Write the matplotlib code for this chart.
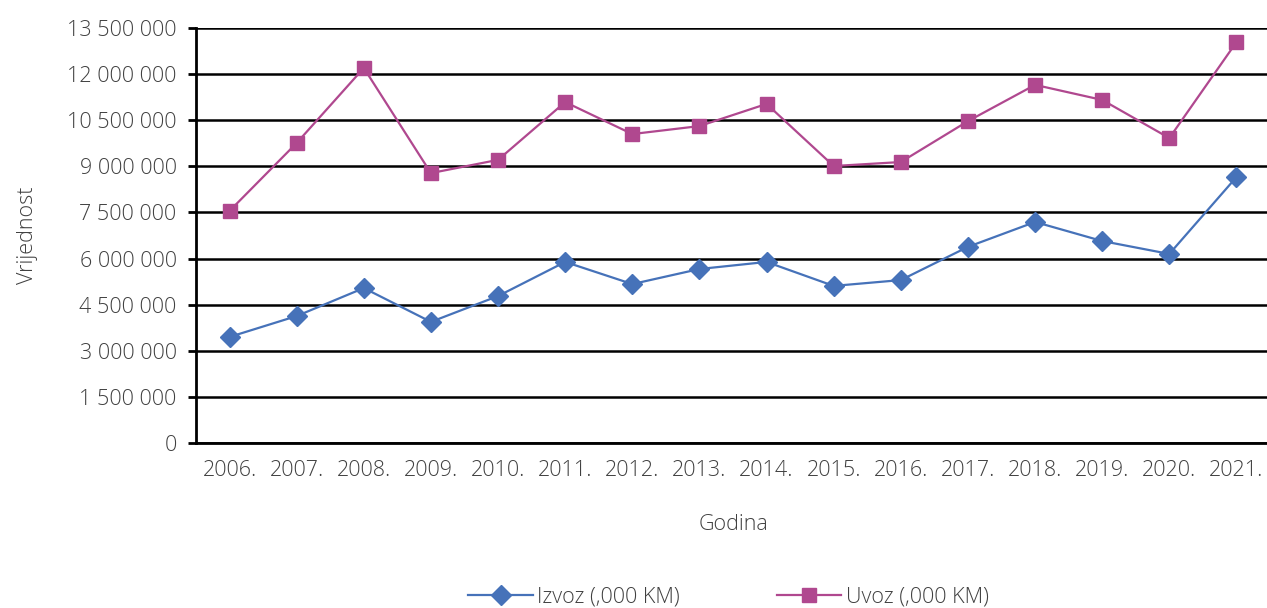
import matplotlib
matplotlib.use('Agg')
from matplotlib import pyplot as plt
from matplotlib.ticker import FuncFormatter, MultipleLocator

godine = ['2006.', '2007.', '2008.', '2009.', '2010.', '2011.', '2012.', '2013.',
          '2014.', '2015.', '2016.', '2017.', '2018.', '2019.', '2020.', '2021.']
izvoz = [3450000, 4130000, 5040000, 3940000, 4780000, 5890000, 5170000, 5660000,
         5890000, 5110000, 5300000, 6380000, 7190000, 6570000, 6150000, 8650000]
uvoz = [7550000, 9760000, 12200000, 8780000, 9210000, 11090000, 10050000, 10310000,
        11030000, 9010000, 9140000, 10470000, 11650000, 11160000, 9920000, 13040000]

plt.rcParams['font.family'] = ['Open Sans', 'DejaVu Sans']
plt.rcParams['font.weight'] = 'light'
plt.rcParams['axes.labelweight'] = 'light'
txt = '#404040'
fs = 15.5

fig = plt.figure(figsize=(12.67, 6.08), dpi=100)
ax = fig.add_axes([196 / 1267, 165 / 608, (1270 - 196) / 1267, 415 / 608])

x = list(range(len(godine)))
ax.plot(x, izvoz, color='#4672B9', lw=1.6, marker='D', ms=10,
        label='Izvoz (,000 KM)', zorder=3)
ax.plot(x, uvoz, color='#B0488F', lw=1.6, marker='s', ms=10,
        label='Uvoz (,000 KM)', zorder=3)

ax.set_xlim(-0.5, len(godine) - 0.5)
ax.set_ylim(0, 13500000)
ax.yaxis.set_major_locator(MultipleLocator(1500000))
ax.yaxis.set_major_formatter(FuncFormatter(lambda v, p: f'{int(v):,}'.replace(',', ' ')))
ax.set_xticks(x)
ax.set_xticklabels(godine)
ax.grid(axis='y', color='black', lw=1.8)
ax.set_axisbelow(True)

for s in ['top', 'right']:
    ax.spines[s].set_visible(False)
for s in ['left', 'bottom']:
    ax.spines[s].set_linewidth(2)

ax.tick_params(axis='y', length=6, width=2, labelsize=fs, labelcolor=txt, pad=8)
ax.tick_params(axis='x', length=0, labelsize=fs, labelcolor=txt, pad=12)

ax.set_xlabel('Godina', fontsize=fs, color=txt, labelpad=24, fontweight='light')
ax.set_ylabel('Vrijednost', fontsize=fs, color=txt, labelpad=21, fontweight='light')

fig.legend(loc='center', bbox_to_anchor=(0.575, 1 - 597 / 608), ncol=2, frameon=False,
           fontsize=fs, labelcolor=txt, handlelength=3, columnspacing=4.5,
           handletextpad=0.2)

fig.savefig('out.png', dpi=100)
